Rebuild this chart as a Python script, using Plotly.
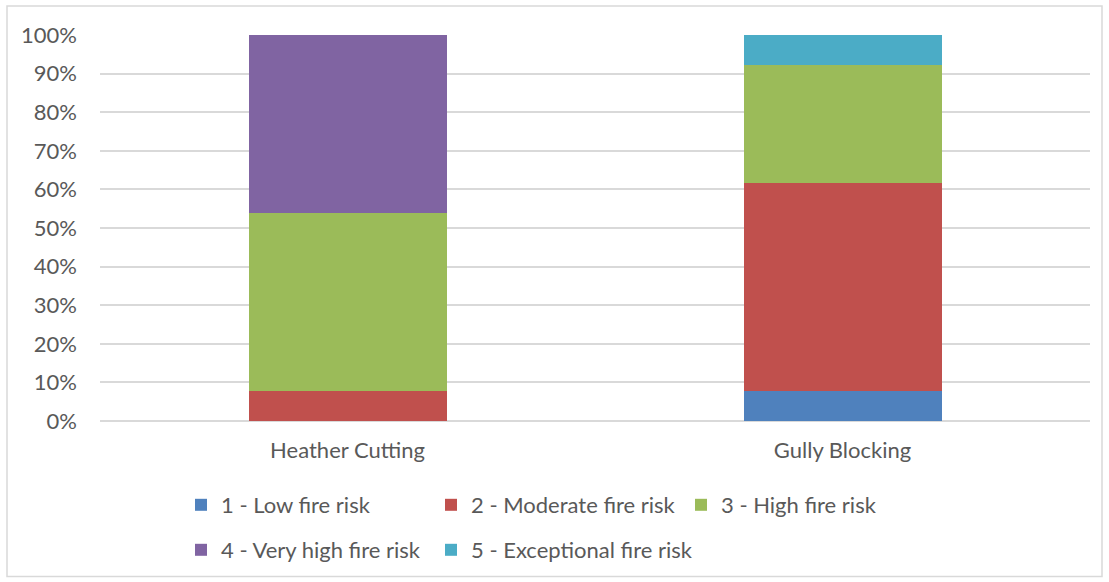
import plotly.graph_objects as go

categories = ["Heather Cutting", "Gully Blocking"]
series_names = ["1 - Low fire risk", "2 - Moderate fire risk", "3 - High fire risk",
                "4 - Very high fire risk", "5 - Exceptional fire risk"]
low = [0.0, 7.69]
moderate = [7.69, 53.85]
high = [46.15, 30.77]
very_high = [46.16, 0.0]
exceptional = [0.0, 7.69]
y_ticks = [0, 10, 20, 30, 40, 50, 60, 70, 80, 90, 100]
y_tick_labels = [f"{v}%" for v in y_ticks]

colors = ["#4F81BD", "#C0504D", "#9BBB59", "#8064A2", "#4BACC6"]
series_values = [low, moderate, high, very_high, exceptional]

W, H = 1109, 582
L, R, T, B = 100, 19, 35, 160
pw, ph = W - L - R, H - T - B

def px_x(p):
    return (p - L) / pw

def px_y(p):
    return (H - B - p) / ph

FONT = "Lato, Calibri, sans-serif"
TXT = "#595959"
FS = 22

fig = go.Figure()
for i, (name, vals, col) in enumerate(zip(series_names, series_values, colors)):
    extra = {}
    if i in (2, 4):
        extra["legendwidth"] = 260
    fig.add_trace(go.Bar(
        x=categories, y=vals, name=name,
        marker=dict(color=col, line=dict(width=0)),
        legend="legend" if i < 3 else "legend2",
        **extra,
    ))

legend_common = dict(
    orientation="h", xanchor="left", yanchor="middle",
    font=dict(family=FONT, size=FS, color=TXT),
    entrywidth=205, entrywidthmode="pixels",
    bgcolor="rgba(0,0,0,0)", traceorder="normal",
)

fig.update_layout(
    width=W, height=H,
    margin=dict(l=L, r=R, t=T, b=B),
    barmode="stack", bargap=0.6,
    plot_bgcolor="white", paper_bgcolor="white",
    font=dict(family=FONT, size=FS, color=TXT),
    legend=dict(x=px_x(181), y=px_y(505), **legend_common),
    legend2=dict(x=px_x(181), y=px_y(550), **legend_common),
    xaxis=dict(showgrid=False, showline=False, ticks="", ticklabelstandoff=14,
               tickfont=dict(family=FONT, size=FS, color=TXT)),
    yaxis=dict(range=[0, 100], tickmode="array", tickvals=y_ticks, ticktext=y_tick_labels,
               showgrid=True, gridcolor="#D9D9D9", gridwidth=1.5,
               zeroline=True, zerolinecolor="#D9D9D9", zerolinewidth=1.5,
               showline=False, ticks="", ticklabelstandoff=22,
               tickfont=dict(family=FONT, size=FS, color=TXT)),
    showlegend=True,
)

fig.add_shape(type="rect", xref="paper", yref="paper",
              x0=px_x(7), x1=px_x(1102), y0=px_y(578), y1=px_y(6),
              line=dict(color="#D9D9D9", width=1.5), fillcolor="rgba(0,0,0,0)",
              layer="below")

fig.write_html("out.html", config={"displayModeBar": False},
               post_script="document.body.style.margin='0';document.body.style.overflow='hidden';")
